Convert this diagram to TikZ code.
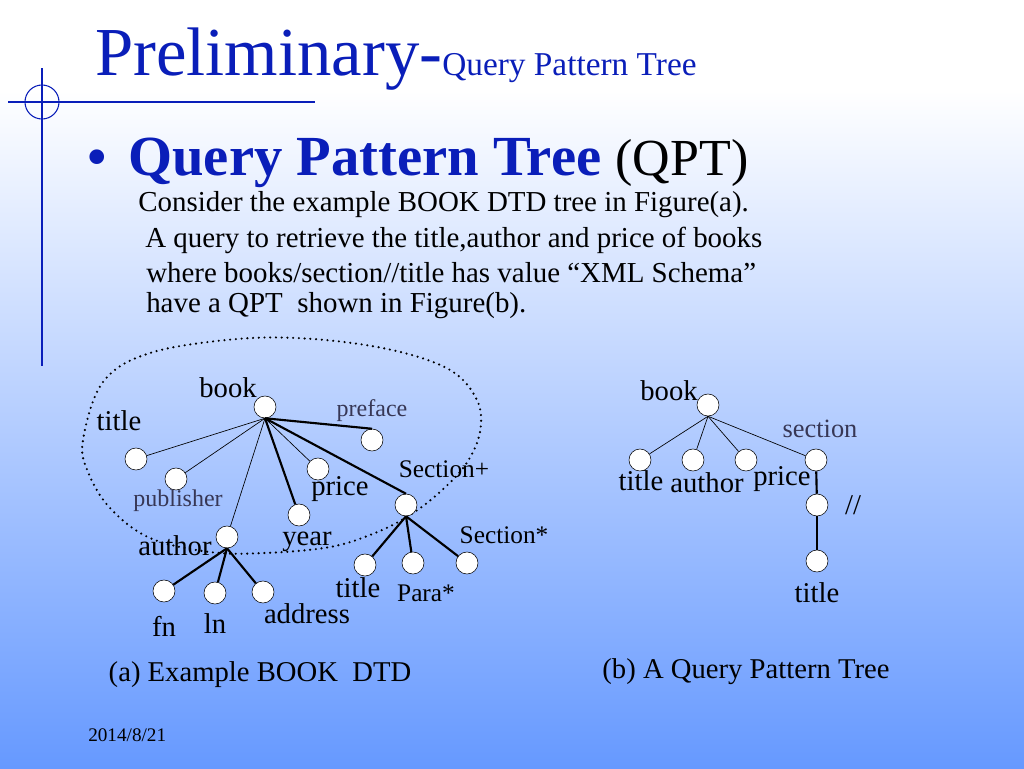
\documentclass[tikz,border=0pt]{standalone}
\usepackage{fontspec}
\setmainfont{Liberation Serif}
\usepackage{xcolor}
\usetikzlibrary{positioning}
\definecolor{slideblue}{RGB}{102,153,255}
\definecolor{titleblue}{RGB}{10,30,185}
\definecolor{lblgray}{RGB}{55,55,85}

\begin{document}
\begin{tikzpicture}[
    x=0.75pt, y=-0.75pt,
    tnode/.style={circle, draw, fill=white, inner sep=0pt, minimum size=16.5pt},
    thin edge/.style={draw, line width=0.5pt},
    thick edge/.style={draw, line width=1.6pt},
    lbl/.style={font=\fontsize{21.5}{24}\selectfont, inner sep=0pt},
    small lbl/.style={font=\fontsize{19}{21}\selectfont, inner sep=0pt},
    gray lbl/.style={font=\fontsize{18}{20}\selectfont, inner sep=0pt, text=lblgray},
    txt/.style={font=\fontsize{21.7}{24}\selectfont, anchor=west, inner sep=0pt},
]
\useasboundingbox (0,0) rectangle (1024,768);
\shade[top color=white, bottom color=slideblue] (0,90) rectangle (1024,768);
\fill[white] (0,0) rectangle (1024,90);

% slide decoration
\draw[titleblue, line width=0.8pt] (42,68) -- (42,366);
\draw[titleblue, line width=0.8pt] (8,102) -- (315,102);
\draw[titleblue, line width=0.8pt] (42,102) circle (17);

% heading and text
\node[anchor=base west, inner sep=0pt, text=titleblue] (head) at (95,75)
    {\fontsize{51.5}{56}\selectfont Preliminary-\fontsize{25}{28}\selectfont Query Pattern Tree};
\node[text=titleblue, inner sep=0pt, anchor=base, font=\fontsize{46}{46}\selectfont] (bullet) at (97,177) {•};
\node[anchor=base west, inner sep=0pt] (heading) at (128,175)
    {\fontsize{42.5}{48}\selectfont\textcolor{titleblue}{\textbf{Query Pattern Tree}}\ \fontsize{39}{44}\selectfont(QPT)};
\node[txt] (l1) at (138,205) {Consider the example BOOK DTD tree in Figure(a).};
\node[txt] (l2) at (145,240) {A query to retrieve the title,author and price of books};
\node[txt] (l3) at (146,273) {where books/section//title has value “XML Schema”};
\node[txt] (l4) at (146,306) {have a QPT\ \ shown in Figure(b).};

% (a) DTD tree
\draw[line width=1.8pt, line cap=round, dash pattern=on 0pt off 4.3pt] plot[smooth cycle, tension=0.6] coordinates
    {(83,440) (103,382) (150,353) (237,339) (313,339) (392,350) (450,370) (477,400)
     (480,432) (466,464) (440,492) (410,515) (375,533) (330,547) (265,553) (210,552)
     (150,538) (110,508) (88,472)};

\node[tnode] (book) at (265,407) {};
\node[tnode] (title) at (136,459) {};
\node[tnode] (publisher) at (176,479) {};
\node[tnode] (author) at (227,537) {};
\node[tnode] (year) at (299,515) {};
\node[tnode] (price) at (318,469) {};
\node[tnode] (preface) at (372,440) {};
\node[tnode] (sec) at (406,505) {};
\node[tnode] (fn) at (164,591) {};
\node[tnode] (ln) at (215,593) {};
\node[tnode] (address) at (263,592) {};
\node[tnode] (sectitle) at (365,565) {};
\node[tnode] (para) at (413,563) {};
\node[tnode] (subsec) at (467,563) {};

\draw[thin edge] (book.south) -- (title);
\draw[thin edge] (book.south) -- (publisher);
\draw[thin edge] (book.south) -- (author);
\draw[thin edge] (book.south) -- (price);
\draw[thick edge] (book.south) -- (year);
\draw[thick edge] (book.south) -- (preface.north);
\draw[thick edge] (book.south) -- (sec.north);
\draw[thick edge] (author.south) -- (fn);
\draw[thick edge] (author.south) -- (ln);
\draw[thick edge] (author.south) -- (address);
\draw[thick edge] (sec.south) -- (sectitle);
\draw[thick edge] (sec.south) -- (para);
\draw[thick edge] (sec.south) -- (subsec);

\node[lbl] (t-book) at (228,388) {book};
\node[lbl] (t-title) at (119,421) {title};
\node[gray lbl] (t-preface) at (372,411) {preface};
\node[gray lbl] (t-publisher) at (178,501) {publisher};
\node[lbl] (t-price) at (340,489) {price};
\node[small lbl] (t-sec) at (444,469) {Section+};
\node[lbl] (t-author) at (175,546) {author};
\node[lbl] (t-year) at (307,542) {year};
\node[small lbl] (t-subsec) at (504,535) {Section*};
\node[lbl] (t-sectitle) at (358,588) {title};
\node[small lbl] (t-para) at (426,593) {Para*};
\node[lbl] (t-fn) at (164,626) {fn};
\node[lbl] (t-ln) at (215,624) {ln};
\node[lbl] (t-address) at (307,614) {address};
\node[lbl] (cap-a) at (260,675) {(a) Example BOOK\ \ DTD};

% (b) query pattern tree
\node[tnode] (qbook) at (708,405) {};
\node[tnode] (qtitle) at (640,460) {};
\node[tnode] (qauthor) at (693,460) {};
\node[tnode] (qprice) at (746,460) {};
\node[tnode] (qsec) at (816,460) {};
\node[tnode] (qmid) at (817,505) {};
\node[tnode] (qleaf) at (817,561) {};

\draw[thin edge] (qbook.south) -- (qtitle);
\draw[thin edge] (qbook.south) -- (qauthor);
\draw[thin edge] (qbook.south) -- (qprice);
\draw[thin edge] (qbook.south) -- (qsec);
\draw[thick edge] (qsec) -- (qmid);
\draw[thick edge] (qmid) -- (qleaf);

\node[lbl] (tq-book) at (669,391) {book};
\node[lbl] (tq-title) at (641,481) {title};
\node[lbl] (tq-author) at (707,483) {author};
\node[lbl] (tq-price) at (782,479) {price};
\node[lbl, font=\fontsize{19.8}{22}\selectfont, text=lblgray] (tq-sec) at (820,429) {section};
\node[lbl] (tq-desc) at (853,505) {//};
\node[lbl] (tq-leaf) at (817,593) {title};
\node[lbl] (cap-b) at (746,672) {(b) A Query Pattern Tree};

\node[font=\fontsize{14.4}{16}\selectfont, anchor=west, inner sep=0pt] (date) at (88,735) {2014/8/21};
\end{tikzpicture}
\end{document}
